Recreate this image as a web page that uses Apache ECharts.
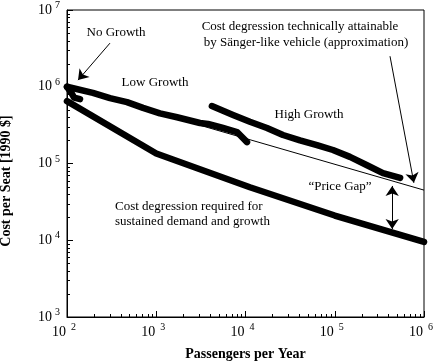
<!DOCTYPE html>
<html><head><meta charset="utf-8">
<script src="https://cdn.jsdelivr.net/npm/echarts@6/dist/echarts.min.js"></script>
<style>html,body{margin:0;padding:0;background:#fff}#c{width:437px;height:363px}</style>
</head><body><div id="c"></div>
<script>
// Axis structure
const xMin = 100, xMax = 1000000;
const yMin = 1000, yMax = 10000000;
const xMinorTicks = [200,300,400,500,600,700,800,900,2000,3000,4000,5000,6000,7000,8000,9000,20000,30000,40000,50000,60000,70000,80000,90000,200000,300000,400000,500000,600000,700000,800000,900000];
const yMinorTicks = [2000,3000,4000,5000,6000,7000,8000,9000,20000,30000,40000,50000,60000,70000,80000,90000,200000,300000,400000,500000,600000,700000,800000,900000,2000000,3000000,4000000,5000000,6000000,7000000,8000000,9000000];

// Series values [passengers per year, cost per seat]
const noGrowth = [[100,1.0e6],[112,8.3e5],[120,7.2e5],[140,6.9e5]];
const lowGrowth = [[100,1.0e6],[195,8.3e5],[303,7.1e5],[470,6.3e5],[711,5.3e5],[1100,4.5e5],[1710,4.0e5],[3090,3.37e5],[3800,3.27e5],[5600,2.9e5],[8040,2.57e5],[10400,1.9e5]];
const highGrowth = [[4200,5.6e5],[7250,4.3e5],[11200,3.5e5],[17400,2.9e5],[26300,2.35e5],[40800,2.0e5],[63200,1.74e5],[95500,1.5e5],[148000,1.22e5],[230000,9.5e4],[347000,7.5e4],[540000,6.5e4]];
const required = [[100,6.5e5],[1000,1.35e5],[11200,4.9e4],[100000,2.1e4],[1000000,9.5e3]];
const saenger = [[100,1.0e6],[1000000,4.5e4]];

// Annotation arrows [from, to]
const noGrowthArrow = [[303,3.7e6],[133,1.22e6]];
const saengerArrow = [[4.16e5,2.5e6],[7.7e5,5.6e4]];
const priceGapArrow = [[4.4e5,5.1e4],[4.4e5,1.4e4]];

const FONT = '"Liberation Serif", "Times New Roman", serif';
const chart = echarts.init(document.getElementById('c'), null, {renderer:'canvas'});

function thick(data){
  return {type:'line', data:data, showSymbol:false, symbol:'none', silent:true, animation:false,
    lineStyle:{color:'#000', width:6.5, cap:'round', join:'round'}, z:3};
}
function arrowSeries(pts, both){
  return {type:'line', data:[], silent:true, animation:false,
    markLine:{silent:true, animation:false, symbol: both ? ['arrow','arrow'] : ['none','arrow'], symbolSize:10,
      label:{show:false}, emphasis:{disabled:true},
      lineStyle:{color:'#000', width:1, type:'solid'},
      data:[[{coord:pts[0]},{coord:pts[1]}]]}};
}
const expFmt = v => '{b|10}{s|' + Math.round(Math.log10(v)) + '}';

chart.setOption({
  animation:false,
  backgroundColor:'#fff',
  grid:{left:67, right:13, top:10, bottom:46, containLabel:false, outerBoundsMode:'none',
    show:true, borderColor:'#000', borderWidth:1, backgroundColor:'transparent'},
  xAxis:{type:'log', logBase:10, min:xMin, max:xMax,
    name:'Passengers per Year', nameLocation:'middle', nameGap:30, nameMoveOverlap:false,
    nameTextStyle:{fontFamily:FONT, fontWeight:'bold', fontSize:14, color:'#000'},
    axisLine:{lineStyle:{color:'#000', width:1}},
    axisTick:{inside:true, length:6, lineStyle:{color:'#000'}},
    splitLine:{show:false},
    axisLabel:{margin:8, formatter:expFmt, color:'#000', fontFamily:FONT,
      rich:{b:{fontSize:14, lineHeight:14, padding:[6,0,6,0], fontFamily:FONT, color:'#000'},
            s:{fontSize:10, lineHeight:10, padding:[0,6,10,5], fontFamily:FONT, color:'#000'}}}
  },
  yAxis:{type:'log', logBase:10, min:yMin, max:yMax,
    axisLine:{lineStyle:{color:'#000', width:1}},
    axisTick:{inside:true, length:6, lineStyle:{color:'#000'}},
    splitLine:{show:false},
    axisLabel:{margin:7, formatter:expFmt, color:'#000', fontFamily:FONT,
      rich:{b:{fontSize:14, lineHeight:14, padding:[6,0,6,0], fontFamily:FONT, color:'#000'},
            s:{fontSize:10, lineHeight:10, padding:[0,0,9,3], fontFamily:FONT, color:'#000'}}}
  },
  series:[
    {type:'line', data:saenger, showSymbol:false, symbol:'none', silent:true, lineStyle:{color:'#000', width:1}, z:2},
    thick(required),
    thick(lowGrowth),
    thick(noGrowth),
    thick(highGrowth),
    arrowSeries(noGrowthArrow,false),
    arrowSeries(saengerArrow,false),
    arrowSeries(priceGapArrow,true),
    {type:'custom', silent:true, data:xMinorTicks.map(v=>[v,yMin]), encode:{x:0,y:1},
      renderItem:(p,api)=>{const c=api.coord([api.value(0),api.value(1)]);const x=Math.round(c[0])+0.5;
        return {type:'line', shape:{x1:x,y1:c[1],x2:x,y2:c[1]-3}, style:{stroke:'#000',lineWidth:1}};}},
    {type:'custom', silent:true, data:yMinorTicks.map(v=>[xMin,v]), encode:{x:0,y:1},
      renderItem:(p,api)=>{const c=api.coord([api.value(0),api.value(1)]);const y=Math.round(c[1])+0.5;
        return {type:'line', shape:{x1:c[0],y1:y,x2:c[0]+3,y2:y}, style:{stroke:'#000',lineWidth:1}};}}
  ],
  graphic:[
    {type:'text', x:6, y:181, rotation:Math.PI/2, style:{text:'Cost per Seat [1990 $]', font:'bold 14px '+FONT, fill:'#000', align:'center', verticalAlign:'middle'}},
    {type:'text', x:116, y:33, style:{text:'No Growth', font:'13px '+FONT, fill:'#000', align:'center', verticalAlign:'middle'}},
    {type:'text', x:155, y:83, style:{text:'Low Growth', font:'13px '+FONT, fill:'#000', align:'center', verticalAlign:'middle'}},
    {type:'text', x:309, y:115, style:{text:'High Growth', font:'13px '+FONT, fill:'#000', align:'center', verticalAlign:'middle'}},
    {type:'text', x:340, y:187, style:{text:'\u201CPrice Gap\u201D', font:'13px '+FONT, fill:'#000', align:'center', verticalAlign:'middle'}},
    {type:'text', x:115, y:207, style:{text:'Cost degression required for', font:'13px '+FONT, fill:'#000', align:'left', verticalAlign:'middle'}},
    {type:'text', x:115, y:222, style:{text:'sustained demand and growth', font:'13px '+FONT, fill:'#000', align:'left', verticalAlign:'middle'}},
    {type:'text', x:300, y:27, style:{text:'Cost degression technically attainable', font:'13px '+FONT, fill:'#000', align:'center', verticalAlign:'middle'}},
    {type:'text', x:306, y:43, style:{text:'by S\u00E4nger-like vehicle (approximation)', font:'13px '+FONT, fill:'#000', align:'center', verticalAlign:'middle'}}
  ]
});
</script>
</body></html>
